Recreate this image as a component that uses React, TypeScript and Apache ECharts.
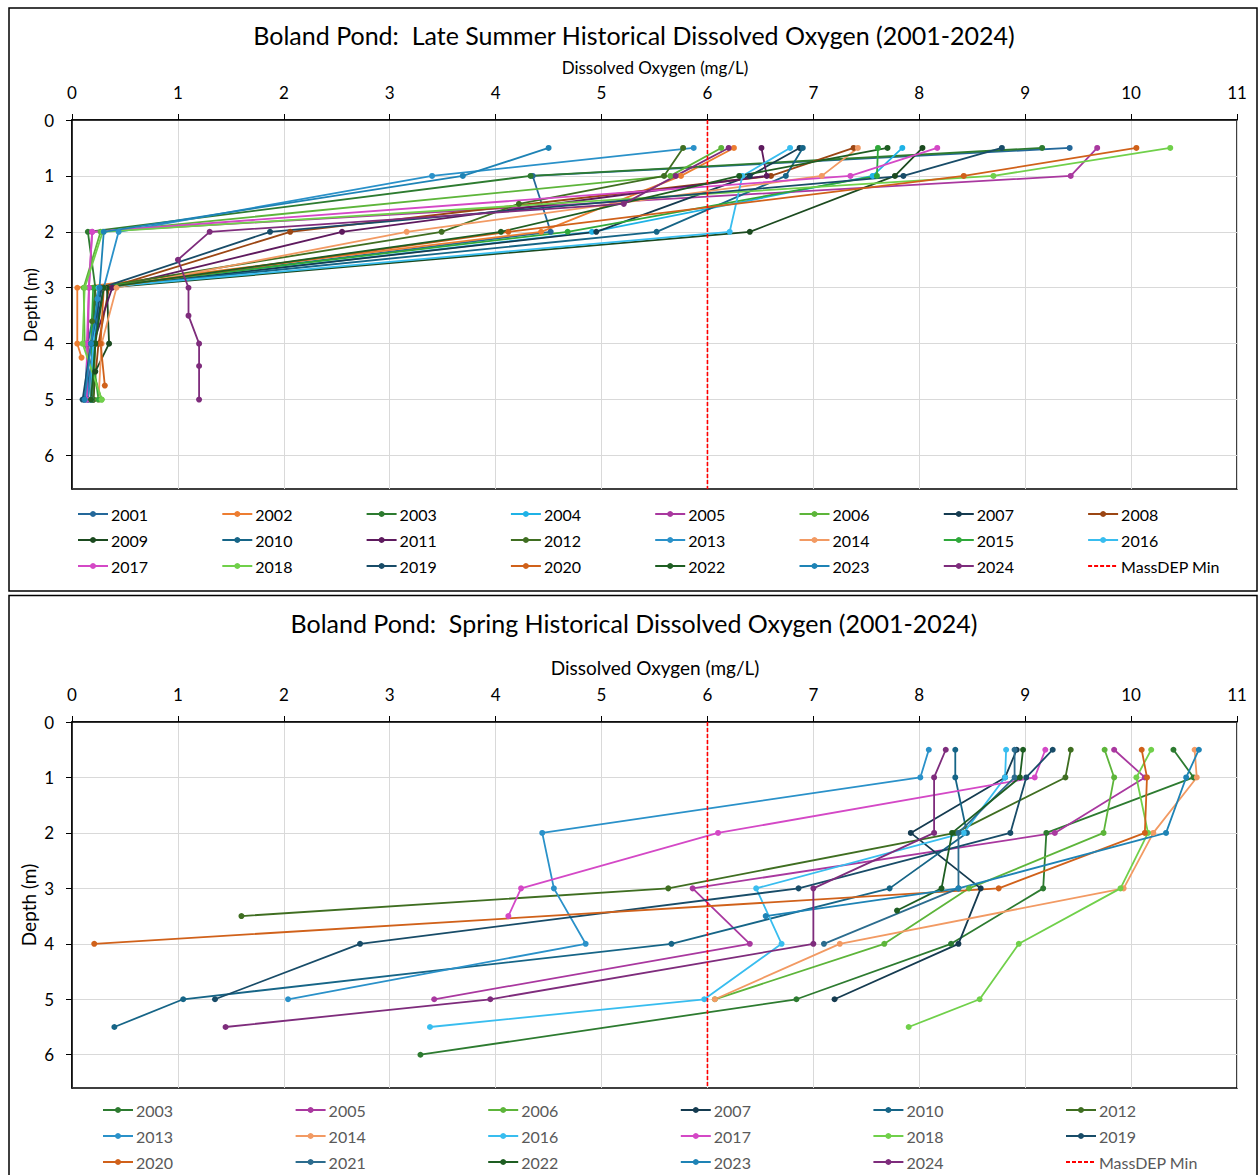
import React, { useEffect, useRef } from "react";
import * as echarts from "echarts";

const FONT = 'Lato, "Liberation Sans", sans-serif';

// ---------- colours per year ----------
const YEAR_KEYS = ["2001","2002","2003","2004","2005","2006","2007","2008","2009","2010","2011","2012","2013","2014","2015","2016","2017","2018","2019","2020","2021","2022","2023","2024"];
const YEAR_COLORS = ["#24689A","#ED7D31","#2D7B30","#1FB2E6","#A9389F","#5DB53A","#153B50","#9B4613","#1B4A1F","#166587","#5E1A5E","#3F6E21","#2A91C9","#F29A63","#2FA83A","#38BDEF","#D448C6","#70D04A","#184C68","#D0611A","#2C6C8E","#1E5E22","#1E83B5","#7E2C7C"];

// ---------- Late summer ----------
const SUMMER_YEARS = ["2001","2002","2003","2004","2005","2006","2007","2008","2009","2010","2011","2012","2013","2014","2015","2016","2017","2018","2019","2020","2022","2023","2024"];
const SUMMER_DEPTH = [
  [0.5,1,2,3,4,5],
  [0.5,1,2,3,4,4.25],
  [0.5,1,2,3,4,5],
  [0.5,1,2,3,4,5],
  [0.5,1,2,3,4,5],
  [0.5,1,2,3,4,5],
  [0.5,1,2,3,4,5],
  [0.5,1,2,3,4,5],
  [0.5,1,2,3,4,4.5,5],
  [0.5,1,2,3,4,5],
  [0.5,1,2,3,4,5],
  [0.5,1,1.5,2,3,3.6,4,5],
  [0.5,1,2,3,3.2,4,5],
  [0.5,1,2,3,4,5],
  [0.5,1,2,3,4,5],
  [0.5,1,2,3,4,5],
  [0.5,1,2,3,4,5],
  [0.5,1,2,3,4,5],
  [0.5,1,2,3,4,5],
  [0.5,1,2,3,4,4.75],
  [0.5,1,2,3,4,5],
  [0.5,1,2,3,4,5],
  [0.5,1,1.5,2,2.5,3,3.5,4,4.4,5],
];
const SUMMER_DO = [
  [9.42,4.35,4.52,0.25,0.15,0.12],
  [6.25,5.75,4.43,0.05,0.05,0.09],
  [9.16,4.33,0.15,0.22,0.2,0.18],
  [7.84,7.56,4.91,0.3,0.2,0.2],
  [9.68,9.43,0.19,0.16,0.15,0.15],
  [6.13,5.65,0.27,0.11,0.12,0.28],
  [6.87,6.4,4.95,0.3,0.2,0.18],
  [7.38,6.6,2.06,0.35,0.25,0.2],
  [8.03,7.77,6.4,0.33,0.35,0.22,0.2],
  [6.9,6.74,5.52,0.26,0.22,0.12],
  [6.51,6.56,2.55,0.38,0.2,0.15],
  [5.77,5.59,4.22,3.49,0.22,0.19,0.22,0.2],
  [5.87,3.4,0.44,0.3,0.24,0.2,0.15],
  [7.42,7.08,3.16,0.42,0.28,0.25],
  [7.61,7.6,4.68,0.2,0.18,0.25],
  [6.78,6.33,6.21,0.25,0.2,0.18],
  [8.17,7.35,0.19,0.16,0.14,0.14],
  [10.37,8.7,0.29,0.12,0.1,0.28],
  [8.78,7.85,1.87,0.28,0.18,0.1],
  [10.05,8.42,4.12,0.3,0.27,0.31],
  [7.7,6.3,4.05,0.3,0.22,0.18],
  [4.5,3.69,0.3,0.26,0.18,0.12],
  [6.2,5.7,5.21,1.3,1.0,1.1,1.1,1.2,1.2,1.2],
];

// ---------- Spring ----------
const SPRING_YEARS = ["2003","2005","2006","2007","2010","2012","2013","2014","2016","2017","2018","2019","2020","2021","2022","2023","2024"];
const SPRING_DEPTH = [
  [0.5,1,2,3,4,5,6],
  [0.5,1,2,3,4,5],
  [0.5,1,2,3,4,5],
  [0.5,1,2,3,4,5],
  [0.5,1,2,3,4,5,5.5],
  [0.5,1,2,3,3.5],
  [0.5,1,2,3,4,5],
  [0.5,1,2,3,4,5],
  [0.5,1,2,3,4,5,5.5],
  [0.5,1,2,3,3.5],
  [0.5,1,2,3,4,5,5.5],
  [0.5,1,2,3,4,5],
  [0.5,1,2,3,4],
  [0.5,1,2,3,4],
  [0.5,1,2,3,3.4],
  [0.5,1,2,3,3.5],
  [0.5,1,2,3,4,5,5.5],
];
const SPRING_DO = [
  [10.4,10.59,9.2,9.17,8.3,6.84,3.29],
  [9.84,10.13,9.28,5.86,6.4,3.42],
  [9.75,9.84,9.74,8.47,7.67,6.07],
  [8.92,8.81,7.92,8.58,8.37,7.2],
  [8.34,8.34,8.45,7.72,5.66,1.05,0.4],
  [9.43,9.38,8.34,5.63,1.6],
  [8.09,8.01,4.44,4.55,4.85,2.04],
  [10.6,10.62,10.21,9.93,7.25,6.07],
  [8.82,8.81,8.42,6.46,6.7,5.97,3.38],
  [9.19,9.09,6.1,4.24,4.12],
  [10.19,10.05,10.16,9.9,8.94,8.57,7.9],
  [9.26,9.01,8.86,6.86,2.72,1.35],
  [10.1,10.15,10.13,8.75,0.21],
  [8.9,8.9,8.37,8.37,7.1],
  [8.98,8.95,8.31,8.21,7.79],
  [10.64,10.52,10.33,8.37,6.55],
  [8.25,8.14,8.14,7.0,7.0,3.95,1.45],
];

const DEPTH_TICKS = [0, 1, 2, 3, 4, 5, 6];
const MASSDEP_NAME = "MassDEP Min";
const MASSDEP_MIN = 6;
const DEPTH_MAX = 6.6;
const DO_MAX = 11;

const TITLE_SUMMER = "Boland Pond:  Late Summer Historical Dissolved Oxygen (2001-2024)";
const TITLE_SPRING = "Boland Pond:  Spring Historical Dissolved Oxygen (2001-2024)";
const X_NAME = "Dissolved Oxygen (mg/L)";
const Y_NAME = "Depth (m)";

function colorOf(year: string) {
  return YEAR_COLORS[YEAR_KEYS.indexOf(year)];
}

function makeSeries(years: string[], depths: number[][], dos: number[][], idx: number) {
  const out: any[] = years.map((y, i) => {
    const c = colorOf(y);
    return {
      name: y,
      type: "line",
      xAxisIndex: idx,
      yAxisIndex: idx,
      data: dos[i].map((v, j) => [v, depths[i][j]]),
      symbol: "circle",
      symbolSize: 6,
      showAllSymbol: true,
      lineStyle: { width: 1.8, color: c },
      itemStyle: { color: c },
      emphasis: { disabled: true },
      z: 2,
    };
  });
  out.push({
    name: MASSDEP_NAME,
    type: "line",
    xAxisIndex: idx,
    yAxisIndex: idx,
    data: [[MASSDEP_MIN, 0], [MASSDEP_MIN, DEPTH_MAX]],
    symbol: "none",
    lineStyle: { width: 1.6, color: "#FF0000", type: [4, 2] },
    itemStyle: { color: "#FF0000" },
    emphasis: { disabled: true },
    z: 3,
  });
  return out;
}

function makeLegends(names: string[], cols: number, left0: number, dx: number, rows: number[], color: string) {
  return names.map((n, k) => {
    const c = k % cols;
    const r = Math.floor(k / cols);
    const item: any = n === MASSDEP_NAME
      ? { name: n, itemStyle: { color: "rgba(0,0,0,0)", borderWidth: 0 } }
      : { name: n };
    return {
      data: [item],
      left: left0 + dx * c,
      top: rows[r] - 10,
      padding: 0,
      itemWidth: 30,
      itemHeight: 7.5,
      itemGap: 0,
      selectedMode: false,
      textStyle: { fontSize: 16, color, fontFamily: FONT, padding: [0, 0, 0, -2] },
    };
  });
}

function xAxisCfg(gridIndex: number) {
  return {
    gridIndex,
    type: "value",
    min: 0,
    max: DO_MAX,
    interval: 1,
    position: "top",
    axisLine: { show: true, onZero: false, lineStyle: { color: "#000", width: 1.5 } },
    axisTick: { show: true, length: 6, lineStyle: { color: "#000", width: 1 } },
    axisLabel: { fontSize: 17, color: "#000", margin: 19, fontFamily: FONT },
    splitLine: { show: true, lineStyle: { color: "#d9d9d9", width: 1 } },
  };
}

function yAxisCfg(gridIndex: number) {
  return {
    gridIndex,
    type: "value",
    min: 0,
    max: DEPTH_MAX,
    interval: 1,
    inverse: true,
    axisLine: { show: true, onZero: false, lineStyle: { color: "#000", width: 1.5 } },
    axisTick: { show: true, length: 6, lineStyle: { color: "#000", width: 1 }, customValues: DEPTH_TICKS },
    axisLabel: {
      fontSize: 17,
      color: "#000",
      margin: 18,
      fontFamily: FONT,
      customValues: DEPTH_TICKS,
      formatter: (v: number) => (Number.isInteger(v) ? String(v) : ""),
    },
    splitLine: { show: true, lineStyle: { color: "#d9d9d9", width: 1 } },
  };
}

function txt(text: string, x: number, y: number, size: number, rotation = 0) {
  return {
    type: "text",
    x,
    y,
    rotation,
    z: 10,
    style: {
      text,
      fill: "#000",
      fontSize: size,
      fontFamily: FONT,
      align: "center",
      verticalAlign: "middle",
    },
  };
}

export default function App() {
  const ref = useRef<HTMLDivElement>(null);
  useEffect(() => {
    if (!ref.current) return;
    const chart = echarts.init(ref.current, undefined, { renderer: "svg" });
    const topLegendNames = [...SUMMER_YEARS, MASSDEP_NAME];
    const botLegendNames = [...SPRING_YEARS, MASSDEP_NAME];
    const option: any = {
      animation: false,
      backgroundColor: "#fff",
      grid: [
        { left: 72, top: 120, width: 1165, height: 369, show: true, borderColor: "#000", borderWidth: 1.5, backgroundColor: "rgba(0,0,0,0)" },
        { left: 72, top: 722, width: 1165, height: 366, show: true, borderColor: "#000", borderWidth: 1.5, backgroundColor: "rgba(0,0,0,0)" },
      ],
      xAxis: [xAxisCfg(0), xAxisCfg(1)],
      yAxis: [yAxisCfg(0), yAxisCfg(1)],
      legend: [
        ...makeLegends(topLegendNames, 8, 77, 144.3, [516, 542, 568], "#000"),
        ...makeLegends(botLegendNames, 6, 102, 192.6, [1112, 1138, 1164], "#595959"),
      ],
      series: [
        ...makeSeries(SUMMER_YEARS, SUMMER_DEPTH, SUMMER_DO, 0),
        ...makeSeries(SPRING_YEARS, SPRING_DEPTH, SPRING_DO, 1),
      ],
      graphic: [
        { type: "rect", shape: { x: 9, y: 8, width: 1248, height: 583 }, style: { fill: "none", stroke: "#000", lineWidth: 1.5 }, z: 10 },
        { type: "rect", shape: { x: 9, y: 595.5, width: 1248, height: 600 }, style: { fill: "none", stroke: "#000", lineWidth: 1.5 }, z: 10 },
        txt(TITLE_SUMMER, 634, 35, 25),
        txt(X_NAME, 655, 67, 17),
        txt(Y_NAME, 30, 305, 17, Math.PI / 2),
        txt(TITLE_SPRING, 634, 623, 25),
        txt(X_NAME, 655, 667, 19),
        txt(Y_NAME, 28, 905, 19, Math.PI / 2),
      ],
    };
    chart.setOption(option);
    return () => chart.dispose();
  }, []);
  return (
    <div
      ref={ref}
      style={{ position: "absolute", left: 0, top: 0, width: 1259, height: 1175, background: "#fff" }}
    />
  );
}
